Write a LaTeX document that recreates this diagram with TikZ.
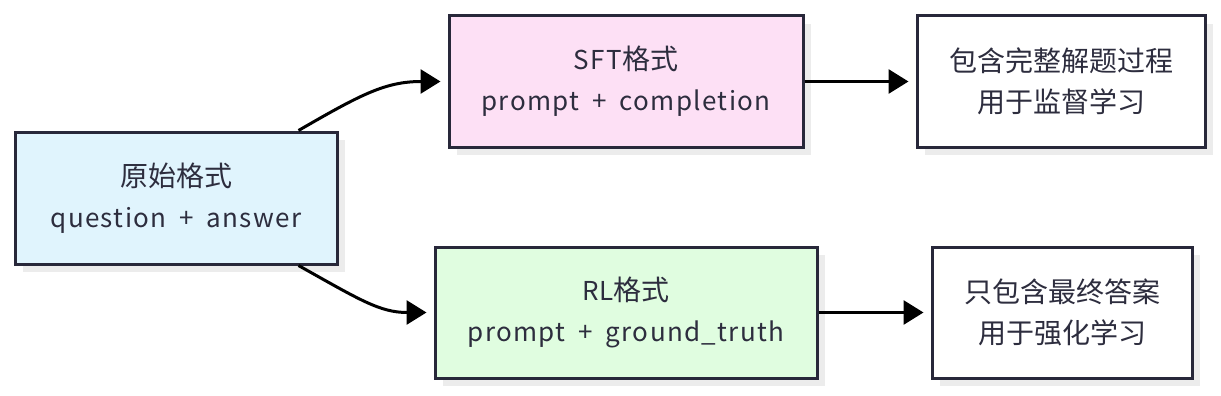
\documentclass[tikz,border=0pt]{standalone}
\usepackage{fontspec}
\setmainfont{Noto Sans CJK SC}
\newfontfamily\cjkfam{Noto Sans CJK SC}
\newfontfamily\latfam[LetterSpace=5.2,WordSpace=1.8]{Noto Sans CJK SC}
\newcommand{\cj}{\cjkfam\fontsize{28}{41}\selectfont}
\newcommand{\la}{\latfam\fontsize{26}{41}\selectfont}
\usetikzlibrary{arrows.meta,shadows}
\definecolor{bordercol}{RGB}{40,40,58}
\definecolor{textcol}{RGB}{45,45,62}
\definecolor{shadowcol}{RGB}{236,236,236}
\definecolor{bluefill}{RGB}{224,244,253}
\definecolor{pinkfill}{RGB}{253,224,245}
\definecolor{greenfill}{RGB}{224,253,224}
\tikzset{
  box/.style={draw=bordercol, line width=3pt, rectangle, inner sep=0pt,
    text=textcol, align=center, font=\fontsize{26}{41}\selectfont,
    drop shadow={shadow xshift=8pt, shadow yshift=-8pt, fill=shadowcol, opacity=1}},
  conn/.style={line width=3pt, draw=black,
    -{Triangle[length=20pt,width=24pt]}, shorten >=7pt}
}
\begin{document}
\begin{tikzpicture}[x=1pt,y=-1pt]
\useasboundingbox (0,0) rectangle (1221,396);
\node[box, fill=bluefill, minimum width=322pt, minimum height=132pt] (A) at (176,198) {\cj 原始格式\\\la question + answer};
\node[box, fill=pinkfill, minimum width=354pt, minimum height=131pt] (B) at (626,81.5) {{\la SFT}{\cj 格式}\\\la prompt + completion};
\node[box, fill=white, minimum width=288pt, minimum height=131pt] (C) at (1061,81.5) {\cj 包含完整解题过程\\\cj 用于监督学习};
\node[box, fill=greenfill, minimum width=382pt, minimum height=131pt] (D) at (626,312.5) {{\la RL}{\cj 格式}\\\la prompt + ground\_truth};
\node[box, fill=white, minimum width=260pt, minimum height=131pt] (E) at (1062,312.5) {\cj 只包含最终答案\\\cj 用于强化学习};
\draw[conn] ([xshift=-40pt]A.north east) .. controls (360,95) and (385,81.5) .. (B.west);
\draw[conn] ([xshift=-40pt]A.south east) .. controls (360,300) and (380,312.5) .. (D.west);
\draw[conn] (B.east) -- (C.west);
\draw[conn] (D.east) -- (E.west);
\end{tikzpicture}
\end{document}
